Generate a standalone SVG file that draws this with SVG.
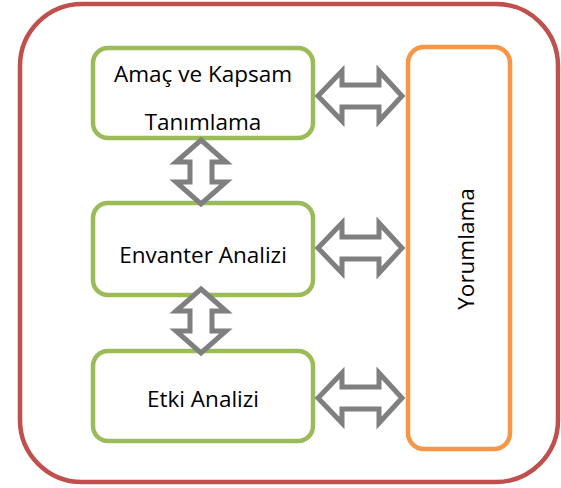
<svg xmlns="http://www.w3.org/2000/svg" width="561" height="488" viewBox="0 0 561 488">
<style>
.box{fill:#fff;stroke:#9BBB59;stroke-width:4.5}
.side{fill:#fff;stroke:#F79646;stroke-width:4.5}
.outer{fill:#fff;stroke:#C0504D;stroke-width:4.5}
.arr{fill:#fff;stroke:#7F7F7F;stroke-width:5;stroke-linejoin:miter}
.t{font-family:"Open Sans","Liberation Sans",sans-serif;font-size:22.5px;fill:#000;text-anchor:middle}
</style>
<g id="frame"><rect class="outer" x="20" y="4" width="538" height="478" rx="62" ry="62"/></g>
<g id="amac"><rect class="box" x="93" y="48" width="220" height="90" rx="15" ry="15"/>
<text class="t" x="203" y="82">Amaç ve Kapsam</text>
<text class="t" x="203" y="130">Tanımlama</text></g>
<g id="envanter"><rect class="box" x="93" y="203" width="220" height="92" rx="15" ry="15"/>
<text class="t" x="203" y="263">Envanter Analizi</text></g>
<g id="etki"><rect class="box" x="93" y="351" width="220" height="90" rx="15" ry="15"/>
<text class="t" x="203" y="407">Etki Analizi</text></g>
<g id="yorumlama"><rect class="side" x="408" y="47" width="102" height="402" rx="16" ry="16"/>
<text class="t" transform="translate(474,249) rotate(-90)" x="0" y="0">Yorumlama</text></g>
<g id="connectors">
<path class="arr" d="M318,96 L342,71 L342,85 L379,85 L379,71 L402,96 L379,121 L379,107 L342,107 L342,121 Z"/>
<path class="arr" d="M318,248 L342,223 L342,237 L379,237 L379,223 L402,248 L379,273 L379,259 L342,259 L342,273 Z"/>
<path class="arr" d="M318,398 L342,373 L342,387 L379,387 L379,373 L402,398 L379,423 L379,409 L342,409 L342,423 Z"/>
<path class="arr" d="M201,140 L226,162 L212,162 L212,182 L226,182 L201,204 L176,182 L190,182 L190,162 L176,162 Z"/>
<path class="arr" d="M201,289 L226,311 L212,311 L212,331 L226,331 L201,353 L176,331 L190,331 L190,311 L176,311 Z"/>
</g>
</svg>
